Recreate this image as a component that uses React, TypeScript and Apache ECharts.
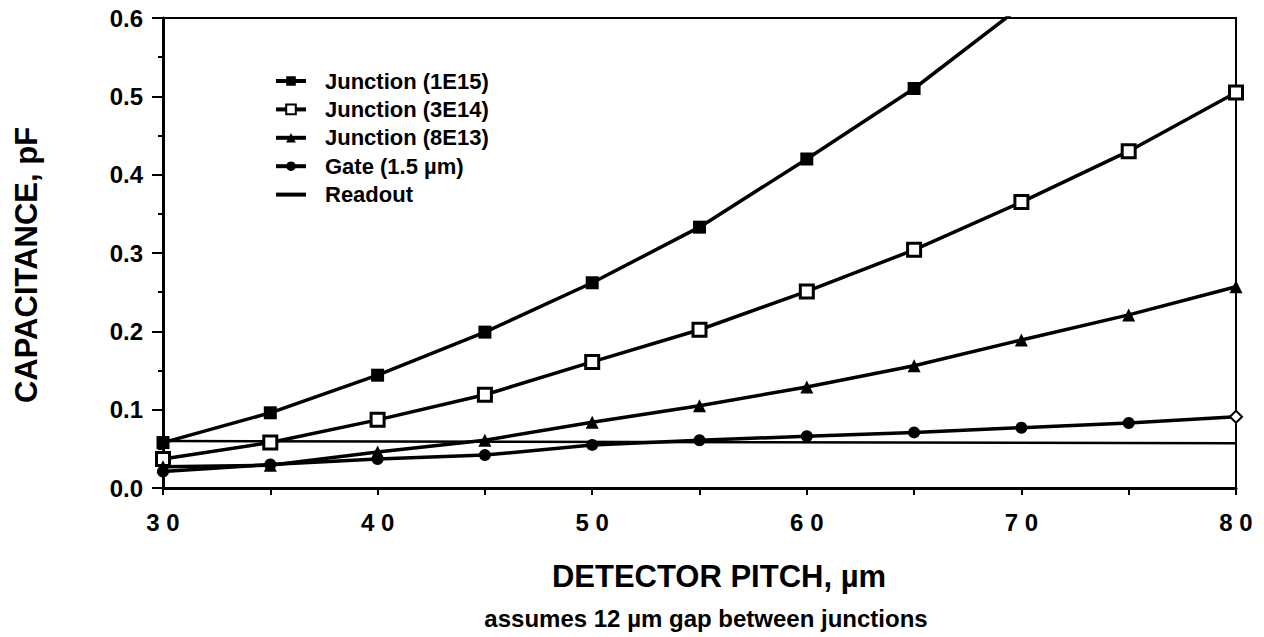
import React, { useEffect, useRef } from "react";
import * as echarts from "echarts";

const pitch = [30, 35, 40, 45, 50, 55, 60, 65, 70, 75, 80];
const junction1E15 = [0.058, 0.096, 0.144, 0.199, 0.262, 0.333, 0.42, 0.51, 0.615];
const junction3E14 = [0.037, 0.058, 0.087, 0.119, 0.161, 0.202, 0.251, 0.304, 0.365, 0.43, 0.505];
const junction8E13 = [0.027, 0.029, 0.046, 0.061, 0.084, 0.105, 0.129, 0.156, 0.189, 0.221, 0.257];
const gate = [0.021, 0.03, 0.037, 0.042, 0.055, 0.061, 0.066, 0.071, 0.077, 0.083, 0.091];
const readoutX = [30, 80];
const readout = [0.06, 0.057];
const yTicks = ["0.0", "0.1", "0.2", "0.3", "0.4", "0.5", "0.6"];
const seriesNames = ["Junction (1E15)", "Junction (3E14)", "Junction (8E13)", "Gate (1.5 µm)", "Readout"];

const FONT = "'Liberation Sans', Arial, Helvetica, sans-serif";

function pairs(xs: number[], ys: number[]) {
  return ys.map((y, i) => [xs[i], y]);
}

export default function App() {
  const ref = useRef<HTMLDivElement>(null);
  useEffect(() => {
    if (!ref.current) return;
    const chart = echarts.init(ref.current, undefined, { renderer: "svg" });
    const lineStyle = { color: "#000", width: 3.5 };
    const gateData: any[] = pairs(pitch, gate);
    const last = gateData.length - 1;
    gateData[last] = {
      value: gateData[last],
      symbol: "diamond",
      symbolSize: 12,
      itemStyle: { color: "#fff", borderColor: "#000", borderWidth: 2 },
    };
    chart.setOption({
      animation: false,
      backgroundColor: "#fff",
      textStyle: { fontFamily: FONT },
      grid: { left: 163, right: 28, top: 18, bottom: 149, show: true, borderColor: "#000", borderWidth: 2 },
      legend: {
        orient: "vertical",
        left: 269,
        top: 65,
        itemWidth: 30,
        itemHeight: 12,
        itemGap: 6.4,
        lineStyle: { width: 4 },
        textStyle: { fontFamily: FONT, fontSize: 22, fontWeight: "bold", color: "#000", padding: [0, 0, 0, 14] },
        data: [
          seriesNames[0],
          seriesNames[1],
          seriesNames[2],
          seriesNames[3],
          { name: seriesNames[4], itemStyle: { opacity: 0 } },
        ],
      },
      xAxis: {
        type: "value",
        min: 30,
        max: 80,
        interval: 5,
        splitLine: { show: false },
        axisLine: { lineStyle: { color: "#000", width: 3 } },
        axisTick: { show: true, length: 7, lineStyle: { color: "#000", width: 2 } },
        axisLabel: {
          margin: 22,
          fontFamily: FONT,
          fontSize: 24,
          fontWeight: "bold",
          color: "#000",
          formatter: (v: number) => (v % 10 === 0 ? String(v).split("").join(" ") : ""),
        },
      },
      yAxis: {
        type: "value",
        min: 0,
        max: 0.6,
        interval: 0.1,
        splitLine: { show: false },
        axisLine: { lineStyle: { color: "#000", width: 3 } },
        axisTick: { show: true, length: 11, lineStyle: { color: "#000", width: 2 } },
        minorTick: { show: true, splitNumber: 2, length: 5, lineStyle: { color: "#000", width: 2 } },
        axisLabel: {
          margin: 20,
          fontFamily: FONT,
          fontSize: 24,
          fontWeight: "bold",
          color: "#000",
          formatter: (v: number) => yTicks[Math.round(v * 10)] ?? "",
        },
      },
      graphic: [
        {
          type: "text",
          x: 26,
          y: 265,
          rotation: Math.PI / 2,
          style: {
            text: "CAPACITANCE, pF",
            font: `bold 31px ${FONT}`,
            fill: "#000",
            align: "center",
            verticalAlign: "middle",
          },
        },
        {
          type: "text",
          x: 719,
          y: 576,
          style: {
            text: "DETECTOR PITCH, µm",
            font: `bold 31px ${FONT}`,
            fill: "#000",
            align: "center",
            verticalAlign: "middle",
          },
        },
        {
          type: "text",
          x: 706,
          y: 618,
          style: {
            text: "assumes 12 µm gap between junctions",
            font: `bold 24px ${FONT}`,
            fill: "#000",
            align: "center",
            verticalAlign: "middle",
          },
        },
      ],
      series: [
        {
          name: seriesNames[0],
          type: "line",
          data: pairs(pitch, junction1E15),
          symbol: "rect",
          symbolSize: 13,
          lineStyle,
          itemStyle: { color: "#000" },
          clip: true,
        },
        {
          name: seriesNames[1],
          type: "line",
          data: pairs(pitch, junction3E14),
          symbol: "rect",
          symbolSize: 13,
          lineStyle,
          itemStyle: { color: "#fff", borderColor: "#000", borderWidth: 3 },
        },
        {
          name: seriesNames[2],
          type: "line",
          data: pairs(pitch, junction8E13),
          symbol: "triangle",
          symbolSize: 13,
          lineStyle,
          itemStyle: { color: "#000" },
        },
        {
          name: seriesNames[3],
          type: "line",
          data: gateData,
          symbol: "circle",
          symbolSize: 12,
          lineStyle,
          itemStyle: { color: "#000" },
        },
        {
          name: seriesNames[4],
          type: "line",
          data: pairs(readoutX, readout),
          symbol: "none",
          lineStyle: { color: "#000", width: 2.5 },
          itemStyle: { color: "#000" },
        },
      ],
    });
    return () => chart.dispose();
  }, []);
  return <div ref={ref} style={{ position: "fixed", left: 0, top: 0, width: 1264, height: 637 }} />;
}
